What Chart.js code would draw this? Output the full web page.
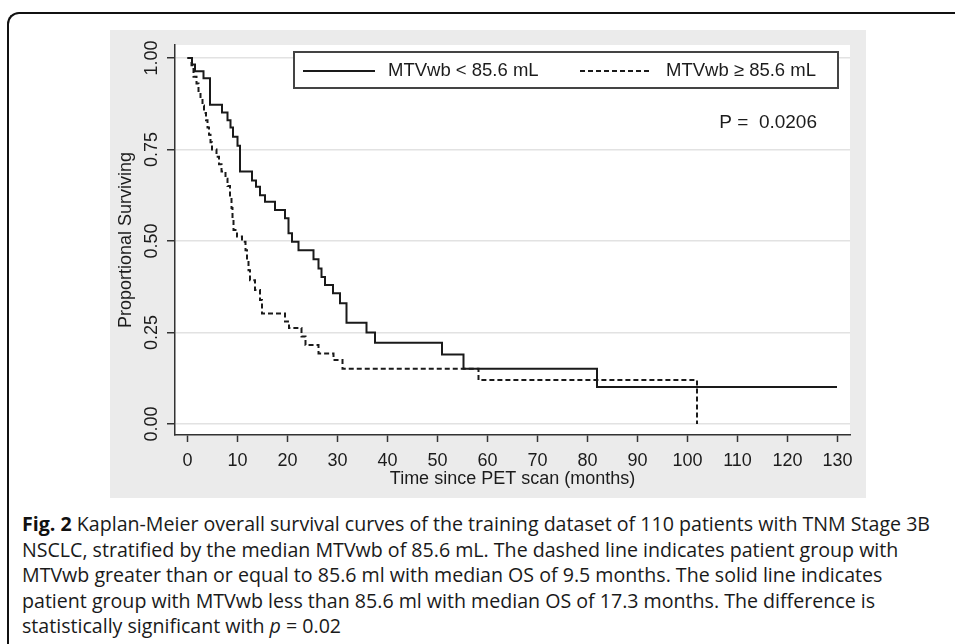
<!DOCTYPE html>
<html lang="en">
  <head>
    <meta charset="UTF-8">
    <title>Fig. 2 Kaplan-Meier</title>
    <script src="https://cdn.jsdelivr.net/npm/chart.js"></script>
    <style>
      body { margin: 0; background: #fff; width: 955px; height: 644px; overflow: hidden; position: relative; }
      #frame { position: absolute; left: 7px; top: 12px; width: 1000px; height: 700px;
               border-left: 2px solid #111; border-top: 2px solid #111; border-top-left-radius: 12px; }
      #panel { position: absolute; left: 110px; top: 30px; background: #ebebeb; }
      #caption { position: absolute; left: 22px; top: 511px; font-family: "Open Sans", sans-serif;
                 font-size: 20px; line-height: 25.5px; color: #1a1a1a; transform-origin: 0 0; white-space: nowrap; }
      #caption b { font-weight: 700; color: #111; }
    </style>
  </head>

  <body>
    <div id="frame"></div>
    <canvas id="panel" width="756" height="468"></canvas>
    <div id="caption">
      <div><b>Fig. 2</b> Kaplan-Meier overall survival curves of the training dataset of 110 patients with TNM Stage 3B</div>
      <div>NSCLC, stratified by the median MTVwb of 85.6 mL. The dashed line indicates patient group with</div>
      <div>MTVwb greater than or equal to 85.6 ml with median OS of 9.5 months. The solid line indicates</div>
      <div>patient group with MTVwb less than 85.6 ml with median OS of 17.3 months. The difference is</div>
      <div>statistically significant with <i>p</i> = 0.02</div>
    </div>

    <script>
      // survival steps: time of each drop (months) and survival after it
      const lowTimes = [0, 0.9, 1.5, 3.2, 4.5, 6.9, 8.0, 8.6, 9.1, 10.0, 10.5, 12.9, 13.7, 14.5, 15.5, 17.5,
                        19.5, 20.2, 20.9, 22.2, 25.2, 26.2, 26.8, 27.5, 29.1, 30.5, 31.8, 35.8, 37.5, 50.9,
                        55.2, 81.9, 129.9]
      const lowSurv  = [1.0, 0.982, 0.964, 0.945, 0.872, 0.851, 0.83, 0.81, 0.785, 0.76, 0.69, 0.665, 0.648,
                        0.625, 0.607, 0.585, 0.562, 0.521, 0.498, 0.475, 0.45, 0.425, 0.402, 0.38, 0.357,
                        0.33, 0.277, 0.25, 0.222, 0.19, 0.151, 0.101, 0.101]

      const highTimes = [0, 0.8, 1.2, 1.8, 2.2, 2.6, 3.0, 3.3, 3.7, 4.0, 4.3, 4.6, 4.9, 5.8, 6.3, 6.8, 7.6,
                         8.0, 8.5, 8.8, 9.0, 9.2, 9.9, 10.9, 11.6, 11.9, 12.2, 12.5, 13.5, 14.5, 14.9, 19.5,
                         20.3, 22.8, 23.6, 26.2, 29.2, 31.0, 58.2, 101.9]
      const highSurv  = [1.0, 0.98, 0.949, 0.93, 0.91, 0.89, 0.87, 0.85, 0.83, 0.81, 0.79, 0.77, 0.75, 0.73,
                         0.71, 0.69, 0.67, 0.65, 0.62, 0.59, 0.56, 0.53, 0.512, 0.498, 0.475, 0.448, 0.42,
                         0.393, 0.366, 0.339, 0.302, 0.28, 0.262, 0.239, 0.216, 0.193, 0.175, 0.151, 0.12, 0.0]

      const seriesNames = ["MTVwb < 85.6 mL", "MTVwb \u2265 85.6 mL"]
      const xTicks = [0, 10, 20, 30, 40, 50, 60, 70, 80, 90, 100, 110, 120, 130]
      const yTicks = [0, 0.25, 0.5, 0.75, 1]
      const yTickLabels = ["0.00", "0.25", "0.50", "0.75", "1.00"]
      const pText = "P =  0.0206"

      const FONT = '"Liberation Sans", Arial, sans-serif'
      const INK = '#1c1c1c'

      const toPoints = (ts, ss) => ts.map((t, i) => ({x: t, y: ss[i]}))

      // white plot region, rotated y labels, boxed legend and P value
      const decor = {
        id: 'decor',
        beforeDraw(chart) {
          const {ctx, chartArea: a} = chart
          ctx.save()
          ctx.fillStyle = '#fff'
          ctx.fillRect(a.left, a.top, a.right - a.left, a.bottom - a.top)
          ctx.restore()
        },
        afterDraw(chart) {
          const ctx = chart.ctx
          const ys = chart.scales.y
          ctx.save()
          ctx.fillStyle = INK
          ctx.font = '18px ' + FONT
          ctx.textAlign = 'center'
          ctx.textBaseline = 'middle'
          yTicks.forEach((v, i) => {
            ctx.save()
            ctx.translate(42, ys.getPixelForValue(v))
            ctx.rotate(-Math.PI / 2)
            ctx.fillText(yTickLabels[i], 0, 0)
            ctx.restore()
          })

          // legend
          ctx.fillStyle = '#fff'
          ctx.fillRect(184, 22, 544, 36)
          ctx.strokeStyle = '#444'
          ctx.lineWidth = 2
          ctx.strokeRect(184, 22, 544, 36)
          const sets = chart.data.datasets
          const slots = [{x: 193, tx: 278}, {x: 470, tx: 556}]
          sets.forEach((ds, i) => {
            ctx.beginPath()
            ctx.strokeStyle = ds.borderColor
            ctx.lineWidth = ds.borderWidth
            ctx.setLineDash(ds.borderDash || [])
            ctx.moveTo(slots[i].x, 41)
            ctx.lineTo(slots[i].x + 72, 41)
            ctx.stroke()
            ctx.setLineDash([])
            ctx.fillStyle = INK
            ctx.font = '18.5px ' + FONT
            ctx.textAlign = 'left'
            ctx.fillText(ds.label, slots[i].tx, 41)
          })

          ctx.textAlign = 'right'
          ctx.font = '19px ' + FONT
          ctx.fillText(pText, 707, 93)
          ctx.restore()
        }
      }

      const ctx = document.getElementById('panel')

      let grafico = new Chart(ctx, {
        type: 'line',
        data: {
          datasets: [{
            label: seriesNames[0],
            data: toPoints(lowTimes, lowSurv),
            borderColor: '#1a1a1a',
            borderWidth: 2,
            stepped: 'before'
          }, {
            label: seriesNames[1],
            data: toPoints(highTimes, highSurv),
            borderColor: '#1a1a1a',
            borderWidth: 2,
            borderDash: [5, 3],
            stepped: 'before'
          }]
        },
        options: {
          responsive: false,
          animation: false,
          devicePixelRatio: 1,
          layout: { padding: { left: 0, right: 16, top: 15, bottom: 3 } },
          elements: { point: { radius: 0 }, line: { tension: 0 } },
          plugins: { legend: { display: false }, tooltip: { enabled: false } },
          scales: {
            x: {
              type: 'linear',
              min: -2.5,
              max: 132.5,
              afterBuildTicks: s => { s.ticks = xTicks.map(v => ({value: v})) },
              afterFit: s => { s.height = 60 },
              grid: { drawOnChartArea: false, drawTicks: true, tickLength: 7, tickColor: '#333', tickWidth: 1.5 },
              border: { color: '#333', width: 1.5 },
              ticks: { font: { size: 18, family: FONT }, color: INK, padding: 8, maxRotation: 0, autoSkip: false },
              title: { display: true, text: 'Time since PET scan (months)', font: { size: 18, family: FONT },
                       color: INK, padding: { top: 0, bottom: 5 } }
            },
            y: {
              type: 'linear',
              min: -0.03,
              max: 1.0355,
              afterBuildTicks: s => { s.ticks = yTicks.map(v => ({value: v})) },
              afterFit: s => { s.width = 65 },
              grid: { color: '#e2e2e2', lineWidth: 1.5, drawTicks: true, tickLength: 8, tickColor: '#333', tickWidth: 1.5 },
              border: { color: '#333', width: 1.5 },
              ticks: { display: false },
              title: { display: true, text: 'Proportional Surviving', font: { size: 18, family: FONT },
                       color: INK, padding: { top: 5, bottom: 0 } }
            }
          }
        },
        plugins: [decor]
      });

      // squeeze the caption to the width it takes in the figure
      const cap = document.getElementById('caption')
      const first = cap.firstElementChild
      const range = document.createRange()
      range.selectNodeContents(first)
      const w = range.getBoundingClientRect().width
      cap.style.transform = 'scaleX(' + (908 / w) + ')'
    </script>
  </body>
</html>
